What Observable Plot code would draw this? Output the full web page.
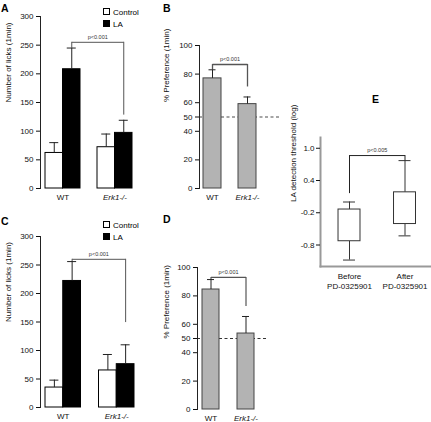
<!DOCTYPE html>
<html><head><meta charset="utf-8">
<script src="https://cdn.jsdelivr.net/npm/d3@7"></script>
<script src="https://cdn.jsdelivr.net/npm/@observablehq/plot@0.6"></script>
<style>
body{margin:0;background:#fff;overflow:hidden}
#fig{position:relative;width:431px;height:422px;font-family:"Liberation Sans",Arial,Helvetica,sans-serif;}
#fig svg{overflow:visible}
</style></head><body><div id="fig"></div>
<script>
// ---------- data ----------
const genotypes = ["WT", "Erk1-/-"];
const conditions = ["Control", "LA"];
const licksTicks = [0, 50, 100, 150, 200, 250, 300];
const prefTicks = [0, 20, 40, 50, 60, 80, 100];
const pLabels = ["p<0.001", "p<0.001", "p<0.001", "p<0.001", "p<0.005"];
// Panel A
const aControlMean = [62, 72];
const aControlSem = [18, 23];
const aLAMean = [208, 97];
const aLASem = [37, 22];
// Panel B
const bMean = [77, 59];
const bSem = [6, 5];
// Panel C
const cControlMean = [35, 65];
const cControlSem = [13, 28];
const cLAMean = [222, 76];
const cLASem = [34, 34];
// Panel D
const dMean = [84.5, 53.5];
const dSem = [7, 12];
// Panel E (box plots)
const eGroups = ["Before\nPD-0325901", "After\nPD-0325901"];
const eMin = [-1.08, -0.63];
const eQ1 = [-0.73, -0.41];
const eQ3 = [-0.14, 0.18];
const eMax = [0.0, 0.77];
const eTicks = [-0.8, -0.2, 0.4, 1.0];

// ---------- helpers ----------
const FONT = '"Liberation Sans", Arial, Helvetica, sans-serif';
const fig = document.getElementById("fig");
const baseStyle = {fontFamily: FONT, fontSize: "8px", background: "transparent", overflow: "visible", color: "#111"};
function put(node, left, top) {
  node.style.position = "absolute";
  node.style.left = left + "px";
  node.style.top = top + "px";
  fig.appendChild(node);
}
function bandGeom(r0, r1, pi, po) {
  const step = (r1 - r0) / (2 - pi + 2 * po);
  return {step, bw: step * (1 - pi)};
}
const BR = "#555";

function genotypeLabels() {
  return [
    Plot.text(genotypes.filter(g => g === "WT"), {x: d => d, frameAnchor: "bottom", dy: 11, fontSize: 8}),
    Plot.text(genotypes.filter(g => g !== "WT"), {x: d => d, frameAnchor: "bottom", dy: 11, fontSize: 8, fontStyle: "italic"})
  ];
}

function licksPanel(c) {
  const {step, bw} = bandGeom(c.marginLeft, c.rangeEnd, c.pi, c.po);
  const q = bw / 4, cap = 9;
  const ctrl = genotypes.map((g, i) => ({genotype: g, mean: c.ctrlMean[i], top: c.ctrlMean[i] + c.ctrlSem[i]}));
  const la = genotypes.map((g, i) => ({genotype: g, mean: c.laMean[i], top: c.laMean[i] + c.laSem[i]}));
  const br = [{from: genotypes[0], to: genotypes[1], y: c.brY, left: c.brLeft, right: c.brRight, label: c.pLabel}];
  return Plot.plot({
    width: c.width, height: c.height,
    marginTop: c.marginTop, marginBottom: c.marginBottom, marginLeft: c.marginLeft, marginRight: c.width - c.rangeEnd,
    style: baseStyle,
    x: {domain: genotypes, paddingInner: c.pi, paddingOuter: c.po, round: false, axis: null},
    y: {domain: [0, 300]},
    marks: [
      Plot.frame({anchor: "left", stroke: "#222"}),
      Plot.axisY(licksTicks, {tickSize: 4, tickPadding: 3, label: null, fontSize: 8}),
      Plot.text(["Number of licks (1min)"], {frameAnchor: "left", rotate: -90, dx: -32, fontSize: 8}),
      Plot.barY(ctrl, {x: "genotype", y: "mean", fill: "white", stroke: "black", insetRight: bw / 2}),
      Plot.barY(la, {x: "genotype", y: "mean", fill: "black", stroke: "black", insetLeft: bw / 2}),
      Plot.ruleX(ctrl, {x: "genotype", y1: "mean", y2: "top", dx: -q, stroke: "#222"}),
      Plot.tickY(ctrl, {x: "genotype", y: "top", insetLeft: q - cap / 2, insetRight: 3 * q - cap / 2, stroke: "#222"}),
      Plot.ruleX(la, {x: "genotype", y1: "mean", y2: "top", dx: q, stroke: "#222"}),
      Plot.tickY(la, {x: "genotype", y: "top", insetLeft: 3 * q - cap / 2, insetRight: q - cap / 2, stroke: "#222"}),
      Plot.link(br, {x1: "from", x2: "to", y1: "y", y2: "y", dx: q, stroke: BR}),
      Plot.ruleX(br, {x: "from", y1: "y", y2: "left", dx: q, stroke: BR}),
      Plot.ruleX(br, {x: "to", y1: "y", y2: "right", dx: q, stroke: BR}),
      Plot.text(br, {x: "from", y: "y", text: "label", dx: step / 2 + q, dy: -5, fontSize: 5.5, fill: "#333"}),
      ...genotypeLabels()
    ]
  });
}

function prefPanel(c) {
  const {step, bw} = bandGeom(c.marginLeft, c.rangeEnd, c.pi, c.po);
  const cap = 7;
  const rows = genotypes.map((g, i) => ({genotype: g, mean: c.mean[i], top: c.mean[i] + c.sem[i]}));
  const br = [{from: genotypes[0], to: genotypes[1], y: c.brY, left: c.brLeft, right: c.brRight, label: c.pLabel}];
  return Plot.plot({
    width: c.width, height: c.height,
    marginTop: c.marginTop, marginBottom: c.marginBottom, marginLeft: c.marginLeft, marginRight: c.width - c.rangeEnd,
    style: baseStyle,
    x: {domain: genotypes, paddingInner: c.pi, paddingOuter: c.po, round: false, axis: null},
    y: {domain: [0, 100]},
    marks: [
      Plot.ruleY([50], {stroke: c.dashColor, strokeDasharray: "3,2.5", strokeWidth: c.dashWidth, insetRight: -c.dashExtend}),
      Plot.frame({anchor: "left", stroke: "#222"}),
      Plot.axisY(prefTicks, {tickSize: 4, tickPadding: 3, label: null, fontSize: 8}),
      Plot.text(["% Preference (1min)"], {frameAnchor: "left", rotate: -90, dx: c.labelDx, dy: c.labelDy, fontSize: 8}),
      Plot.barY(rows, {x: "genotype", y: "mean", fill: "#b3b3b3", stroke: "#444"}),
      Plot.ruleX(rows, {x: "genotype", y1: "mean", y2: "top", stroke: "#222"}),
      Plot.tickY(rows, {x: "genotype", y: "top", insetLeft: bw / 2 - cap / 2, insetRight: bw / 2 - cap / 2, stroke: "#222"}),
      Plot.link(br, {x1: "from", x2: "to", y1: "y", y2: "y", stroke: BR, strokeWidth: c.brWidth}),
      Plot.ruleX(br, {x: "from", y1: "y", y2: "left", stroke: BR, strokeWidth: c.brWidth}),
      Plot.ruleX(br, {x: "to", y1: "y", y2: "right", stroke: BR, strokeWidth: c.brWidth}),
      Plot.text(br, {x: "from", y: "y", text: "label", dx: step / 2, dy: -5, fontSize: 5.5, fill: "#333"}),
      ...genotypeLabels()
    ]
  });
}

// ---------- panels ----------
put(licksPanel({
  ctrlMean: aControlMean, ctrlSem: aControlSem, laMean: aLAMean, laSem: aLASem,
  width: 160, height: 210, marginTop: 16, marginBottom: 22, marginLeft: 40, rangeEnd: 137,
  pi: 17 / 52, po: 5 / 52, brY: 255, brLeft: 245, brRight: 128, pLabel: pLabels[0]
}), 0, 0);

put(prefPanel({
  mean: bMean, sem: bSem,
  width: 125, height: 210, marginTop: 45, marginBottom: 22, marginLeft: 39, rangeEnd: 100,
  pi: 17 / 35, po: 4 / 35, brY: 86.7, brLeft: 83, brRight: 71, pLabel: pLabels[1],
  dashColor: "#888", dashWidth: 1.3, dashExtend: 20, labelDx: -33, labelDy: -15, brWidth: 1.3
}), 160, 0);

put(licksPanel({
  ctrlMean: cControlMean, ctrlSem: cControlSem, laMean: cLAMean, laSem: cLASem,
  width: 160, height: 222, marginTop: 36, marginBottom: 15, marginLeft: 40, rangeEnd: 139,
  pi: 18 / 53.5, po: 5 / 53.5, brY: 260, brLeft: 256, brRight: 149, pLabel: pLabels[2]
}), 0, 200);

put(prefPanel({
  mean: dMean, sem: dSem,
  width: 125, height: 222, marginTop: 67, marginBottom: 13, marginLeft: 37, rangeEnd: 99,
  pi: 18 / 35, po: 5 / 35, brY: 93, brLeft: 91.5, brRight: 72.5, pLabel: pLabels[3],
  dashColor: "#333", dashWidth: 1, dashExtend: 7, labelDx: -31, labelDy: 0, brWidth: 1.2
}), 160, 200);

// Panel E
{
  const rows = eGroups.map((g, i) => ({group: g, min: eMin[i], q1: eQ1[i], q3: eQ3[i], max: eMax[i]}));
  const capIn = 5;
  const br = [{from: eGroups[0], to: eGroups[1], y: 0.864, left: 0.156, right: 0.77, label: pLabels[4]}];
  const {step} = bandGeom(40, 150, 0.604, 0.293);
  const e = Plot.plot({
    width: 151, height: 210,
    marginTop: 47, marginBottom: 34, marginLeft: 40, marginRight: 1,
    style: baseStyle,
    x: {domain: eGroups, paddingInner: 0.604, paddingOuter: 0.293, align: 0.554, round: false, axis: null},
    y: {domain: [-1.2, 1.2]},
    marks: [
      Plot.frame({anchor: "left", stroke: "#999", strokeWidth: 2}),
      Plot.frame({anchor: "bottom", stroke: "#999", strokeWidth: 2}),
      Plot.axisY(eTicks, {tickSize: 4, tickPadding: 2, tickFormat: d => d.toFixed(1), label: null, fontSize: 8}),
      Plot.text(["LA detection threshold (log)"], {frameAnchor: "left", rotate: -90, dx: -27, fontSize: 8}),
      Plot.ruleX(rows, {x: "group", y1: "min", y2: "q1", stroke: "#333"}),
      Plot.ruleX(rows, {x: "group", y1: "q3", y2: "max", stroke: "#333"}),
      Plot.tickY(rows, {x: "group", y: "min", insetLeft: capIn, insetRight: capIn, stroke: "#333"}),
      Plot.tickY(rows, {x: "group", y: "max", insetLeft: capIn, insetRight: capIn, stroke: "#333"}),
      Plot.barY(rows, {x: "group", y1: "q1", y2: "q3", fill: "white", stroke: "#333"}),
      Plot.link(br, {x1: "from", x2: "to", y1: "y", y2: "y", stroke: "#222"}),
      Plot.ruleX(br, {x: "from", y1: "y", y2: "left", stroke: "#222"}),
      Plot.ruleX(br, {x: "to", y1: "y", y2: "right", stroke: "#222"}),
      Plot.text(br, {x: "from", y: "y", text: "label", dx: step / 2, dy: -5, fontSize: 5.5, fill: "#333"}),
      Plot.text(eGroups, {x: d => d, frameAnchor: "bottom", lineAnchor: "top", dy: 5, lineHeight: 1.25, fontSize: 8})
    ]
  });
  put(e, 280, 90);
}

// ---------- overlay: panel letters and legends ----------
const ov = d3.create("svg").attr("width", 431).attr("height", 422)
  .style("position", "absolute").style("left", "0px").style("top", "0px")
  .style("font-family", FONT).style("pointer-events", "none");
const letters = [["A", 1, 12], ["B", 163, 12], ["C", 1, 225], ["D", 163, 223], ["E", 372, 103]];
for (const [t, x, y] of letters) {
  ov.append("text").attr("x", x).attr("y", y).attr("font-size", 10.5).attr("font-weight", "bold").text(t);
}
function legend(x, y) {
  conditions.forEach((c, i) => {
    ov.append("rect").attr("x", x + 0.5).attr("y", y + i * 12 + 0.5).attr("width", 6).attr("height", 6)
      .attr("fill", c === "LA" ? "black" : "white").attr("stroke", "black");
    ov.append("text").attr("x", x + 10).attr("y", y + i * 12 + 6.5).attr("font-size", 8).text(c);
  });
}
legend(103, 8);
legend(103, 221);
fig.appendChild(ov.node());
</script>
</body></html>
